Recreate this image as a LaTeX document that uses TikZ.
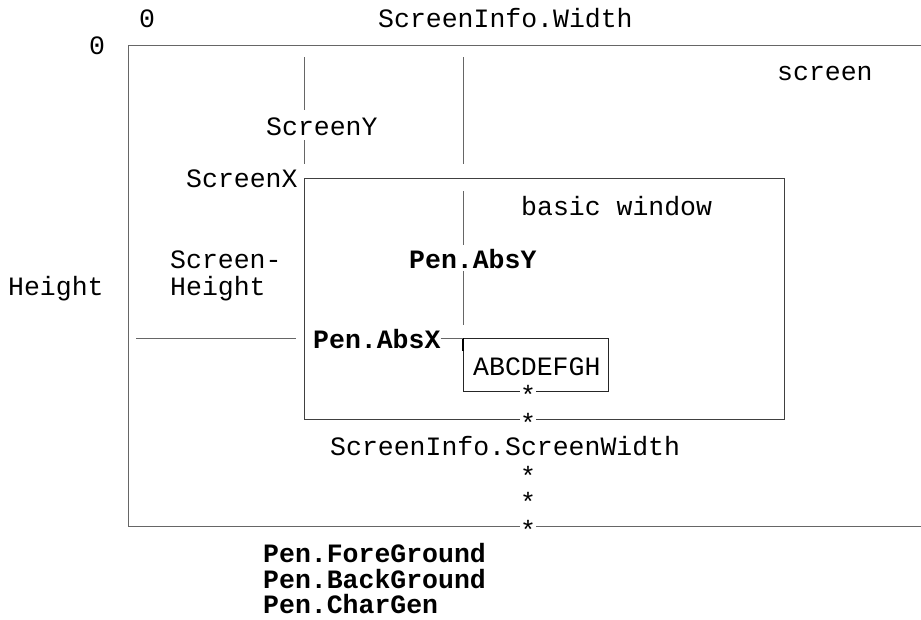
\documentclass[tikz,border=0pt]{standalone}
\usepackage{fontspec}
\newfontfamily\monofam{Liberation Mono}
\begin{document}
\begin{tikzpicture}[x=1pt,y=-1pt,
  lbl/.style={inner sep=0pt,anchor=base west,font=\monofam\fontsize{26.5}{27}\selectfont},
  blbl/.style={lbl,font=\monofam\bfseries\fontsize{26.5}{27}\selectfont},
  starnode/.style={inner sep=0pt,anchor=base,font=\monofam\fontsize{26.5}{27}\selectfont},
  scrline/.style={draw=black!60,line width=1pt},
  winline/.style={draw=black!75,line width=1pt},
  boxline/.style={draw=black!85,line width=1pt}]
\useasboundingbox (0,0) rectangle (921,619);
% stars (glyph centred on the lines)
\node[starnode] (st1) at (528,404) {*};
\node[starnode] (st2) at (528,432) {*};
\node[starnode] (st3) at (528,485) {*};
\node[starnode] (st4) at (528,511) {*};
\node[starnode] (st5) at (528,539) {*};
% screen frame
\coordinate (scrTR) at (921,45);
\coordinate (scrTL) at (128,45);
\coordinate (scrBL) at (128,526);
\coordinate (scrBR) at (921,526);
\draw[scrline] (scrTR) -- (scrTL) -- (scrBL) -- (st5.west |- scrBL);
\draw[scrline] (st5.east |- scrBR) -- (scrBR);
% basic window
\coordinate (winTL) at (304,178);
\coordinate (winTR) at (784,178);
\coordinate (winBL) at (304,419);
\coordinate (winBR) at (784,419);
\draw[winline] (st2.west |- winBL) -- (winBL) -- (winTL) -- (winTR) -- (winBR) -- (st2.east |- winBR);
% character box
\coordinate (boxTL) at (463,338);
\coordinate (boxTR) at (608,338);
\coordinate (boxBL) at (463,391);
\coordinate (boxBR) at (608,391);
\draw[boxline] (st1.west |- boxBL) -- (boxBL) -- (boxTL) -- (boxTR) -- (boxBR) -- (st1.east |- boxBR);
\draw[black,line width=1.6pt] (463,338) -- (463,351);
% labels
\node[lbl] (zx) at (139,27) {0};
\node[lbl] (sw) at (378,27) {ScreenInfo.Width};
\node[lbl] (zy) at (89,54) {0};
\node[lbl] (scr) at (777,80) {screen};
\node[lbl] (scry) at (266,135) {ScreenY};
\node[lbl] (scrx) at (186,187) {ScreenX};
\node[lbl] (bw) at (521,215) {basic window};
\node[lbl] (sh1) at (170,268) {Screen-};
\node[lbl] (sh2) at (170,295) {Height};
\node[lbl] (ht) at (8,295) {Height};
\node[blbl] (absy) at (409,268) {Pen.AbsY};
\node[blbl] (absx) at (313,348) {Pen.AbsX};
\node[lbl] (abc) at (473,375) {ABCDEFGH};
\node[lbl] (ssw) at (330,455) {ScreenInfo.ScreenWidth};
\node[blbl] (fg) at (263,562) {Pen.ForeGround};
\node[blbl] (bg) at (263,588) {Pen.BackGround};
\node[blbl] (cg) at (263,613) {Pen.CharGen};
% ScreenY dimension line
\coordinate (vyA) at (304,57);
\coordinate (vyB) at (304,110);
\coordinate (vyC) at (304,140);
\coordinate (vyD) at (304,164);
\draw[scrline] (vyA) -- (vyB) (vyC) -- (vyD);
% line at x=463 above window
\coordinate (vxA) at (463,57);
\coordinate (vxB) at (463,164);
\draw[scrline] (vxA) -- (vxB);
% Pen.AbsY dimension line
\coordinate (ayA) at (463,191);
\coordinate (ayB) at (463,245);
\coordinate (ayC) at (463,271);
\coordinate (ayD) at (463,325);
\draw[scrline] (ayA) -- (ayB) (ayC) -- (ayD);
% ScreenHeight line
\coordinate (shA) at (136,338);
\coordinate (shB) at (296,338);
\draw[scrline] (shA) -- (shB);
% Pen.AbsX line to box
\draw[scrline] (absx.east |- boxTL) -- (boxTL);
\end{tikzpicture}
\end{document}
